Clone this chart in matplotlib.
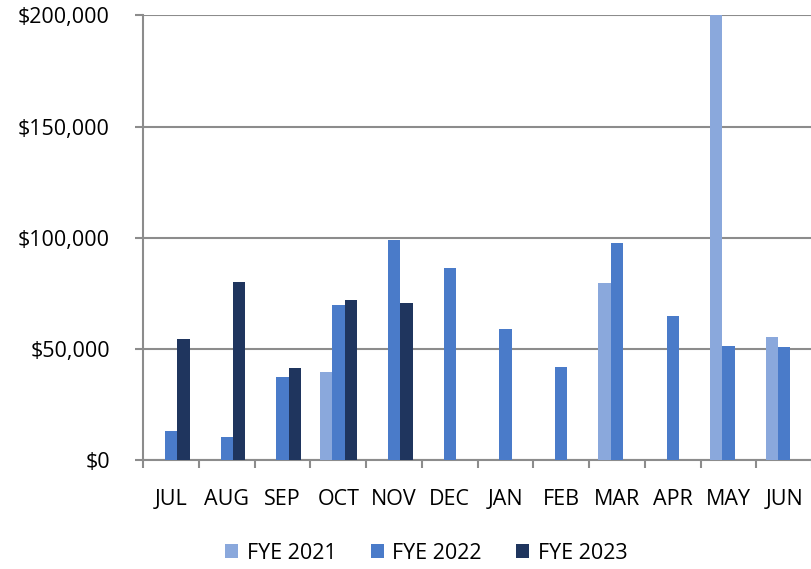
import numpy as np
import matplotlib.pyplot as plt
from matplotlib.ticker import FuncFormatter

months = ["JUL", "AUG", "SEP", "OCT", "NOV", "DEC", "JAN", "FEB", "MAR", "APR", "MAY", "JUN"]
fye2021 = [0, 0, 0, 39800, 0, 0, 0, 0, 79700, 0, 230000, 55500]
fye2022 = [13000, 10500, 37400, 69700, 99100, 86500, 59100, 42000, 97600, 64700, 51500, 50900]
fye2023 = [54400, 80000, 41400, 72200, 70600, 0, 0, 0, 0, 0, 0, 0]
series = ["FYE 2021", "FYE 2022", "FYE 2023"]
colors = ["#8aa8dc", "#4a7bc9", "#1f355e"]

plt.rcParams["font.family"] = ["Open Sans", "DejaVu Sans"]
fs = 15.5

fig = plt.figure(figsize=(8.12, 5.69), dpi=100)
ax = fig.add_axes([0.1765, 0.1916, 0.8235, 0.7812])

x = np.arange(len(months))
w = 0.221
for k, (vals, c, name) in enumerate(zip([fye2021, fye2022, fye2023], colors, series)):
    ax.bar(x + (k - 1) * w, vals, w, color=c, label=name, zorder=3)

ax.set_xlim(-0.5, len(months) - 0.5)
ax.set_ylim(0, 200000)
ax.set_yticks(np.arange(0, 200001, 50000))
ax.yaxis.set_major_formatter(FuncFormatter(lambda v, p: "${:,.0f}".format(v)))
ax.grid(axis="y", color="#8c8c8c", linewidth=1.5, zorder=1)

ax.set_xticks(x)
ax.set_xticklabels(months)
ax.set_xticks(np.arange(-0.5, len(months), 1), minor=True)
ax.tick_params(axis="x", which="major", length=0, pad=21, labelsize=fs)
ax.tick_params(axis="x", which="minor", length=6, width=1.5, color="#8c8c8c", direction="out")
ax.tick_params(axis="y", length=6, width=1.5, color="#8c8c8c", pad=18, labelsize=fs)

for s in ["top", "right"]:
    ax.spines[s].set_visible(False)
for s in ["left", "bottom"]:
    ax.spines[s].set_color("#8c8c8c")
    ax.spines[s].set_linewidth(1.5)

fig.legend(loc="center", bbox_to_anchor=(0.525, 0.028), ncol=3, frameon=False,
           fontsize=fs, handlelength=0.6, handleheight=0.6, columnspacing=1.6, handletextpad=0.4)

fig.savefig("out.png", dpi=100)
